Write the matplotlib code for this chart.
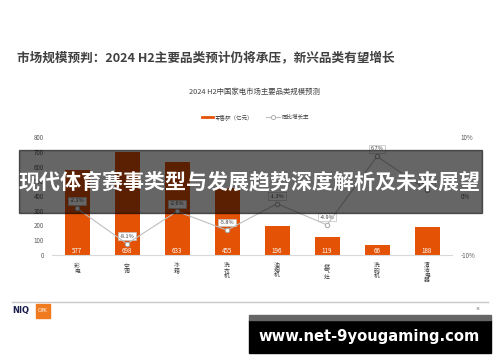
import matplotlib
matplotlib.use("Agg")
import matplotlib.pyplot as plt
from matplotlib.patches import Rectangle
from matplotlib.lines import Line2D

plt.rcParams['font.family'] = ['Noto Sans CJK SC', 'DejaVu Sans']

# chart data
categories = ['彩电', '空调', '冰箱', '洗衣机', '油烟机', '燃气灶', '洗碗机', '清洁电器']
sales = [577, 698, 633, 455, 196, 119, 66, 188]
growth = [-2.1, -8.1, -2.6, -5.8, -1.3, -4.9, 6.7, 1.0]
left_ticks = [0, 100, 200, 300, 400, 500, 600, 700, 800]
right_ticks = [-10, 0, 10]

ORANGE = '#E35205'
GREY = '#BFBFBF'
W, H = 500, 362

fig = plt.figure(figsize=(W / 100, H / 100), dpi=100)


def px(x, y):
    # pixel coords (top-left origin) -> figure fraction
    return x / W, 1 - y / H


def box(x0, y0, x1, y1):
    return [x0 / W, 1 - y1 / H, (x1 - x0) / W, (y1 - y0) / H]


# slide title and chart title
fig.text(*px(17, 58), '市场规模预判：2024 H2主要品类预计仍将承压，新兴品类有望增长',
         fontsize=9.1, fontweight='bold', color='#404040', va='center', ha='left')
fig.text(*px(254, 92), '2024 H2中国家电市场主要品类规模预测',
         fontsize=5.3, color='#404040', va='center', ha='center')

# main axes
ax = fig.add_axes(box(52, 137, 452, 255))
x = list(range(len(categories)))
ax.bar(x, sales, width=0.5, color=ORANGE, zorder=2)
for i, v in enumerate(sales):
    ax.text(i, 30, str(v), color='white', fontsize=4.5, ha='center', va='center', zorder=3)
ax.set_xlim(-0.5, len(categories) - 0.5)
ax.set_ylim(0, 800)
ax.set_yticks(left_ticks)
ax.tick_params(axis='y', length=0, labelsize=4.5, labelcolor='#595959', pad=6)
ax.set_xticks(x)
ax.set_xticklabels(['\n'.join(c) for c in categories], fontsize=4.2, color='#404040',
                   linespacing=1.0, va='top')
ax.tick_params(axis='x', length=0, pad=6)
for s in ['top', 'right', 'left']:
    ax.spines[s].set_visible(False)
ax.spines['bottom'].set_color('#D9D9D9')
ax.spines['bottom'].set_linewidth(0.8)

ax2 = ax.twinx()
ax2.plot(x, growth, color=GREY, lw=0.8, marker='o', ms=3.2, mfc='white',
         mec='#A6A6A6', mew=0.7, zorder=4)
for i, g in enumerate(growth):
    ax2.annotate(f'{g:.1f}%', (i, g), xytext=(0, 5.5), textcoords='offset points',
                 ha='center', va='center', fontsize=4, color='#404040',
                 bbox=dict(boxstyle='square,pad=0.25', fc='white', ec='#BFBFBF', lw=0.5))
ax2.set_ylim(-10, 10)
ax2.set_yticks(right_ticks)
ax2.set_yticklabels([f'{t}%' for t in right_ticks])
ax2.tick_params(axis='y', length=0, labelsize=4.5, labelcolor='#595959', pad=6)
for s in ax2.spines.values():
    s.set_visible(False)

# legend
fig.add_artist(Line2D([202 / W, 213 / W], [1 - 117 / H] * 2, color=ORANGE, lw=2))
fig.text(*px(215, 117), '零售额（亿元）', fontsize=4, color='#404040', va='center')
fig.add_artist(Line2D([266 / W, 280 / W], [1 - 117 / H] * 2, color=GREY, lw=0.8))
fig.add_artist(Line2D([273 / W], [1 - 117 / H], marker='o', ms=3, mfc='white',
                      mec='#A6A6A6', mew=0.6))
fig.text(*px(282, 117), '同比增长率', fontsize=4, color='#404040', va='center')

# footer
fig.add_artist(Line2D([12 / W, 488 / W], [1 - 302 / H] * 2, color='#C8C8C8', lw=1))
fig.text(*px(12, 311), 'NIQ', fontsize=6, fontweight='bold', color='#1B1F4B',
         va='center', family='DejaVu Sans')
fig.add_artist(Rectangle(px(36, 318), 14 / W, 14 / H, transform=fig.transFigure,
                         color='#F07A1F'))
fig.text(*px(43, 311), 'GfK', fontsize=4, color='white', va='center', ha='center',
         family='DejaVu Sans')
fig.text(*px(478, 309), '34', fontsize=3, color='#808080', va='center', ha='center')

# overlay banner
fig.add_artist(Rectangle(px(19, 213), 463 / W, 63 / H, transform=fig.transFigure,
                         color='black', alpha=0.6, zorder=10))
fig.text(*px(250, 183), '现代体育赛事类型与发展趋势深度解析及未来展望', fontsize=15.1,
         fontweight='bold', color='white', ha='center', va='center', zorder=11)

# url banner
fig.add_artist(Rectangle(px(249, 353), 242 / W, 33 / H, transform=fig.transFigure,
                         color='black', zorder=10))
fig.add_artist(Rectangle(px(249, 320), 242 / W, 5 / H, transform=fig.transFigure,
                         color='#666666', zorder=10))
fig.text(*px(369, 337), 'www.net-9yougaming.com', fontsize=10.6, fontweight='bold',
         color='white', ha='center', va='center', zorder=11, family='DejaVu Sans')

fig.savefig('out.png', dpi=100)
